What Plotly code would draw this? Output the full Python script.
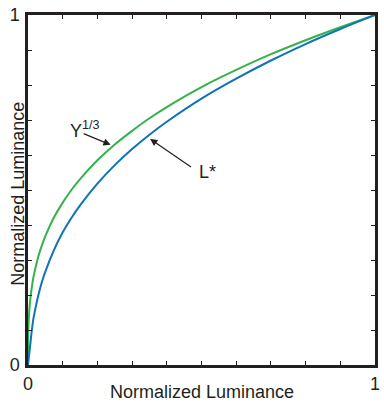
import plotly.graph_objects as go

# Values (normalized luminance in, normalized lightness out)
lum_x = [0, 0.0005, 0.001, 0.002, 0.004, 0.007, 0.01, 0.015, 0.02, 0.03, 0.04, 0.05,
         0.075, 0.1, 0.125, 0.15, 0.2, 0.25, 0.3, 0.35, 0.4, 0.5, 0.6, 0.7, 0.8, 0.9, 1.0]
cube_root = [0, 0.079, 0.100, 0.126, 0.159, 0.191, 0.215, 0.247, 0.271, 0.311, 0.342, 0.368,
             0.422, 0.464, 0.500, 0.531, 0.585, 0.630, 0.669, 0.705, 0.737, 0.794, 0.843,
             0.888, 0.928, 0.965, 1.0]
lstar = [0, 0.0045, 0.009, 0.018, 0.036, 0.063, 0.090, 0.129, 0.155, 0.200, 0.237, 0.267,
         0.329, 0.379, 0.420, 0.456, 0.518, 0.571, 0.617, 0.658, 0.695, 0.761, 0.818,
         0.870, 0.917, 0.960, 1.0]

tick_vals = [0, 0.1, 0.2, 0.3, 0.4, 0.5, 0.6, 0.7, 0.8, 0.9, 1.0]
tick_text = ["0", "", "", "", "", "", "", "", "", "", "1"]

ink = "#231f20"
font = "Liberation Sans, Arial, sans-serif"
fs = 18

fig = go.Figure()
fig.add_trace(go.Scatter(x=lum_x, y=cube_root, mode="lines",
                         line=dict(color="#33b34a", width=2, shape="spline"),
                         showlegend=False, hoverinfo="skip"))
fig.add_trace(go.Scatter(x=lum_x, y=lstar, mode="lines",
                         line=dict(color="#0f72bb", width=2, shape="spline"),
                         showlegend=False, hoverinfo="skip"))

axis_common = dict(range=[0, 1], tickvals=tick_vals, ticktext=tick_text,
                   ticks="inside", ticklen=4, tickwidth=1, tickcolor=ink,
                   showline=True, linecolor=ink, linewidth=2.5, mirror="ticks",
                   showgrid=False, zeroline=False,
                   tickfont=dict(family=font, size=fs, color=ink))

fig.update_xaxes(**axis_common, ticklabelstandoff=1)
fig.update_yaxes(**axis_common, ticklabelstandoff=2)

fig.update_layout(
    width=384, height=404,
    margin=dict(l=28, r=4, t=15, b=39),
    paper_bgcolor="white", plot_bgcolor="white",
    font=dict(family=font, size=fs, color=ink),
    annotations=[
        dict(text="Normalized Luminance", xref="paper", yref="paper", x=0.5, y=-0.077,
             xanchor="center", yanchor="middle", showarrow=False,
             font=dict(size=fs, color=ink)),
        dict(text="Normalized Luminance", xref="paper", yref="paper", x=-0.031, y=0.49,
             xanchor="center", yanchor="middle", showarrow=False, textangle=-90,
             font=dict(size=fs, color=ink)),
        dict(text="Y<sup>1/3</sup>", x=0.114, y=0.672, xanchor="left", yanchor="middle",
             showarrow=False, font=dict(size=fs, color=ink)),
        dict(text="L*", x=0.487, y=0.551, xanchor="left", yanchor="middle",
             showarrow=False, font=dict(size=fs, color=ink)),
        dict(text="", x=0.238, y=0.629, ax=0.156, ay=0.663, axref="x", ayref="y",
             showarrow=True, arrowhead=2, arrowsize=1.2, arrowwidth=1.2,
             arrowcolor=ink, standoff=0, startstandoff=0),
        dict(text="", x=0.352, y=0.646, ax=0.474, ay=0.563, axref="x", ayref="y",
             showarrow=True, arrowhead=2, arrowsize=1.2, arrowwidth=1.2,
             arrowcolor=ink, standoff=0, startstandoff=0),
    ],
)

fig.write_html("out.html")
